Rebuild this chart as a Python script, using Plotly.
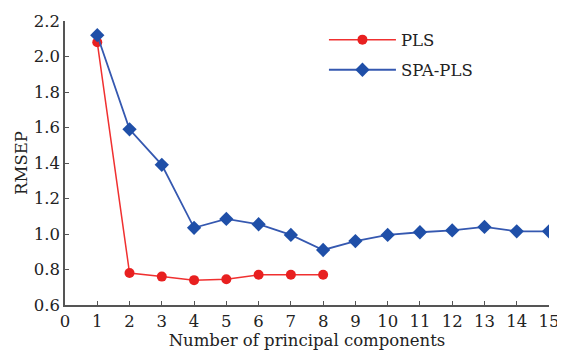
import plotly.graph_objects as go

pls_x = [1, 2, 3, 4, 5, 6, 7, 8]
pls_y = [2.08, 0.78, 0.76, 0.74, 0.745, 0.77, 0.77, 0.77]
spa_x = list(range(1, 16))
spa_y = [2.12, 1.59, 1.39, 1.035, 1.085, 1.055, 0.995, 0.91, 0.96, 0.995, 1.01, 1.02, 1.04, 1.015, 1.015]
x_ticks = list(range(0, 16))
y_ticks = [0.6, 0.8, 1.0, 1.2, 1.4, 1.6, 1.8, 2.0, 2.2]

font = "DejaVu Serif, Liberation Serif, serif"
fig = go.Figure()
fig.add_trace(go.Scatter(x=pls_x, y=pls_y, name="PLS", mode="lines+markers",
                         line=dict(color="#f03030", width=1.5),
                         marker=dict(symbol="circle", size=10, color="#e82020"),
                         legend="legend"))
fig.add_trace(go.Scatter(x=spa_x, y=spa_y, name="SPA-PLS", mode="lines+markers",
                         line=dict(color="#3558b0", width=1.8),
                         marker=dict(symbol="diamond", size=11, color="#1f4fa8"),
                         legend="legend2"))
leg_common = dict(xanchor="left", yanchor="top", itemwidth=67,
                  font=dict(size=16.5), bgcolor="rgba(0,0,0,0)")
fig.update_layout(
    width=557, height=345,
    margin=dict(l=57, r=16, t=13, b=48, autoexpand=False),
    plot_bgcolor="white", paper_bgcolor="white",
    font=dict(family=font, size=16, color="#222"),
    showlegend=True,
    legend=dict(x=0.535, y=0.995, **leg_common),
    legend2=dict(x=0.535, y=0.889, **leg_common),
    xaxis=dict(range=[0, 15], tickvals=x_ticks, ticks="inside", ticklen=4, automargin=False,
               showgrid=False, zeroline=False, showline=True, linecolor="#555", linewidth=1.5,
               tickcolor="#555", tickfont=dict(size=16.5),
               title=dict(text="Number of principal components", standoff=0, font=dict(size=16.5))),
    yaxis=dict(range=[0.6, 2.2], tickvals=y_ticks, tickformat=".1f", ticks="inside", ticklen=4,
               automargin=False,
               showgrid=False, zeroline=False, showline=True, linecolor="#555", linewidth=1.5,
               tickcolor="#555", tickfont=dict(size=16.5),
               title=dict(text="RMSEP", standoff=2, font=dict(size=16.5))),
)
fig.write_html("out.html")
